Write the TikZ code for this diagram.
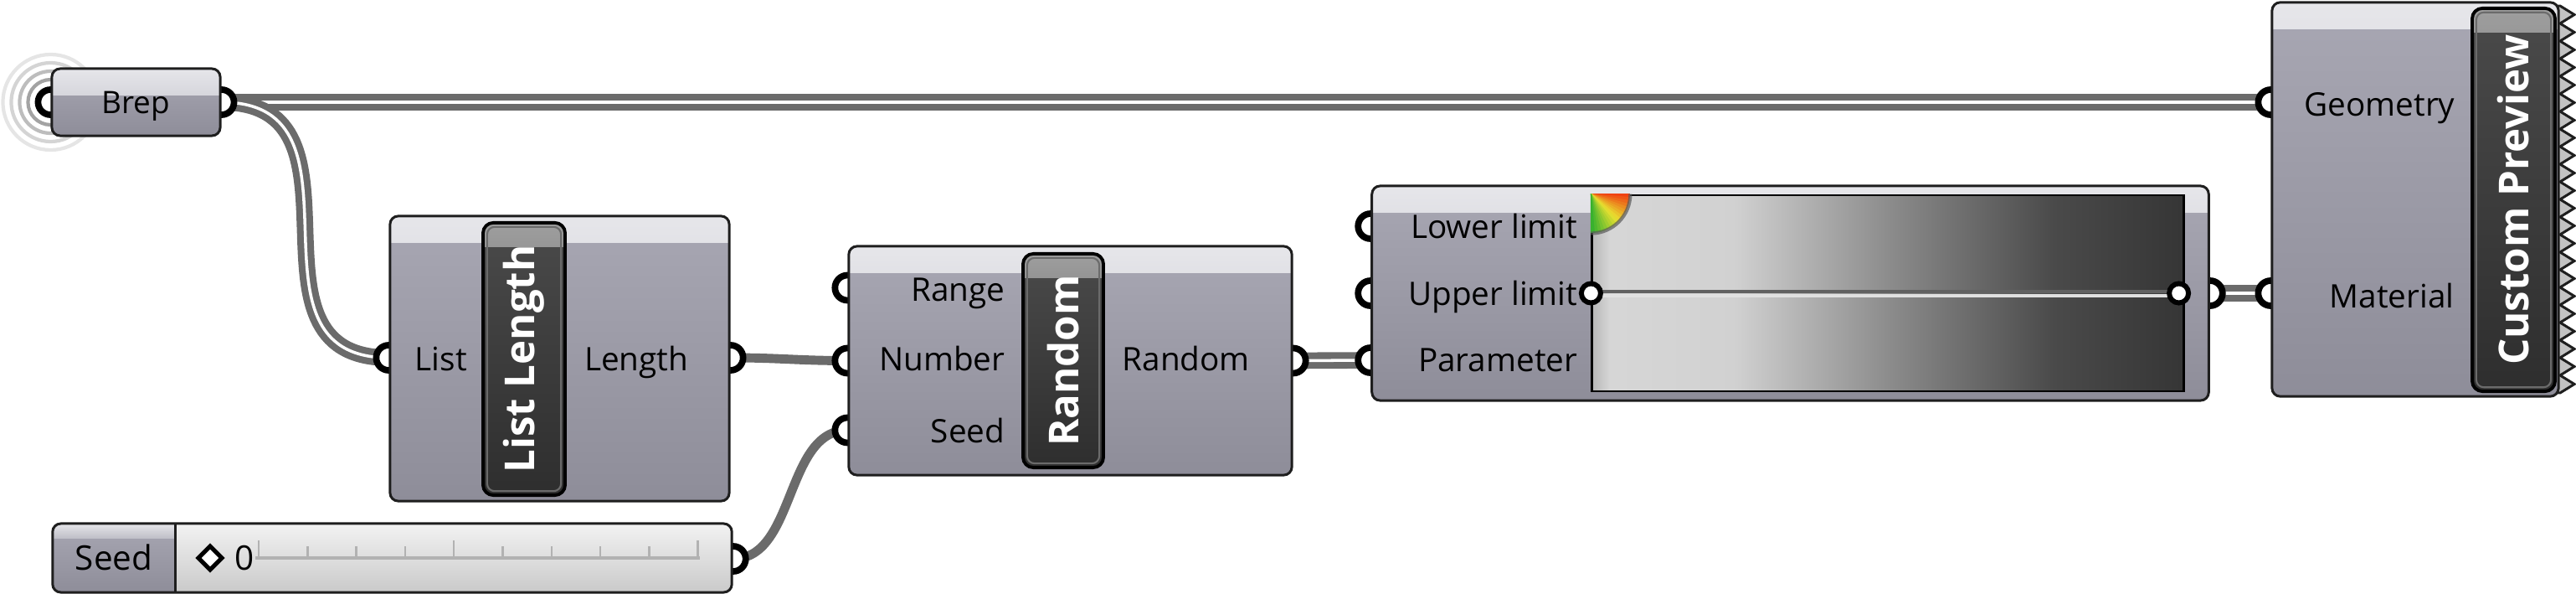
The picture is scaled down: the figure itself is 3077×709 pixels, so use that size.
\documentclass[tikz,border=0pt]{standalone}
\usepackage{fontspec}
\setmainfont{Open Sans}
\usetikzlibrary{calc}

\definecolor{bodyhi}{HTML}{A8A7B3}
\definecolor{bodylo}{HTML}{8E8D99}
\definecolor{headhi}{HTML}{E6E6EA}
\definecolor{headlo}{HTML}{BEBEC7}
\definecolor{gedge}{HTML}{1E1E1E}
\definecolor{gwire}{HTML}{6B6B6B}
\definecolor{badgehi}{HTML}{4A4A4A}
\definecolor{badgelo}{HTML}{2E2E2E}
\definecolor{sliderhi}{HTML}{F2F2F2}
\definecolor{sliderlo}{HTML}{CACACA}
\definecolor{qred}{HTML}{F03A10}
\definecolor{qyel}{HTML}{E8E030}
\definecolor{qgrn}{HTML}{2EAE2E}

\pgfdeclarehorizontalshading{greyramp}{100bp}{color(0bp)=(white!72!black); color(25bp)=(white!72!black); color(26.5bp)=(white!84!black); color(37bp)=(white!82!black); color(50bp)=(white!55!black); color(64bp)=(white!29!black); color(75bp)=(white!21!black); color(100bp)=(white!21!black)}

\pgfdeclarelayer{wires}
\pgfdeclarelayer{ports}
\pgfsetlayers{wires,ports,main}

\newcommand{\portfont}{\fontsize{11}{13}\selectfont}
\newcommand{\badgefont}{\fontsize{14}{16}\selectfont\bfseries}

\begin{document}
\begin{tikzpicture}[x=0.01cm, y=-0.01cm]
    % Styles
    \tikzstyle{comp} = [draw=gedge, line width=0.85pt, rounded corners=2.8pt, inner sep=0pt, top color=bodyhi, bottom color=bodylo,
        path picture={\fill[sharp corners, top color=headhi, bottom color=headlo] (path picture bounding box.north west) rectangle ([yshift=-9pt]path picture bounding box.north east);}]
    \tikzstyle{slider} = [draw=gedge, line width=0.85pt, rounded corners=2.8pt, inner sep=0pt, top color=sliderhi, bottom color=sliderlo,
        path picture={\fill[sharp corners, top color=bodyhi, bottom color=bodylo] (path picture bounding box.north west) rectangle ([xshift=1.47cm]path picture bounding box.south west);
            \fill[sharp corners, top color=headhi, bottom color=headlo] (path picture bounding box.north west) rectangle ([xshift=1.47cm, yshift=-5pt]path picture bounding box.north west);
            \draw[gedge, line width=0.85pt] ([xshift=1.47cm]path picture bounding box.north west) -- ([xshift=1.47cm]path picture bounding box.south west);}]
    \tikzstyle{badge} = [draw=black, line width=1.1pt, rounded corners=3.5pt, inner sep=0pt, top color=badgehi, bottom color=badgelo, text=white, font=\badgefont,
        path picture={\fill[sharp corners, top color=white!62!black, bottom color=badgehi] (path picture bounding box.north west) rectangle ([yshift=-8pt]path picture bounding box.north east);
            \draw[white!42!black, line width=0.6pt, rounded corners=2.5pt] ([shift={(1.4pt,-1.4pt)}]path picture bounding box.north west) rectangle ([shift={(-1.4pt,1.4pt)}]path picture bounding box.south east);}]
    \tikzstyle{port} = [circle, draw=black, fill=white, line width=2.2pt, minimum size=0.3cm, inner sep=0pt]
    \tikzstyle{grip} = [circle, draw=black, fill=white, line width=1.7pt, minimum size=0.23cm, inner sep=0pt]
    \tikzstyle{listwire} = [draw=gwire, line width=2.3pt, double=white, double distance=1pt]
    \tikzstyle{itemwire} = [draw=gwire, line width=3.1pt]
    \tikzstyle{inlabel} = [anchor=base east, font=\portfont, inner sep=0pt]
    \tikzstyle{outlabel} = [anchor=base west, font=\portfont, inner sep=0pt]

    \useasboundingbox (0,0) rectangle (3077,709);

    % Components
    \node[comp, minimum width=2.01cm, minimum height=0.80cm] (brep) at (162.5,122) {};
    \node[comp, minimum width=4.05cm, minimum height=3.40cm] (llen) at (668.5,428) {};
    \node[comp, minimum width=5.29cm, minimum height=2.73cm] (rnd) at (1278.5,430.5) {};
    \node[comp, minimum width=9.99cm, minimum height=2.56cm] (grad) at (2138.5,350) {};
    \node[comp, minimum width=3.42cm, minimum height=4.70cm] (prev) at (2885,238) {};
    \node[slider, minimum width=8.11cm, minimum height=0.82cm] (seed) at (468.5,666) {};

    \node[badge, minimum width=0.98cm, minimum height=3.25cm] (llen-badge) at (626,428.5) {\rotatebox{90}{List Length}};
    \node[badge, minimum width=0.96cm, minimum height=2.55cm] (rnd-badge) at (1270,430.5) {\rotatebox{90}{Random}};
    \node[badge, minimum width=0.99cm, minimum height=4.57cm] (prev-badge) at (3002.5,238.5) {\rotatebox{90}{Custom Preview}};

    % Gradient field
    \node[draw=black, line width=0.8pt, shade, shading=greyramp, minimum width=7.06cm, minimum height=2.34cm, inner sep=0pt] (ramp) at (2255,350) {};
    \foreach \a in {0,5,...,85} {
        \ifnum\a<45
            \pgfmathtruncatemacro\p{(\a+2.5)*100/45}
            \colorlet{wedge}{qyel!\p!qred}
        \else
            \pgfmathtruncatemacro\p{(\a-42.5)*100/45}
            \colorlet{wedge}{qgrn!\p!qyel}
        \fi
        \filldraw[wedge, line width=0.3pt] (ramp.north west) -- ($(ramp.north west)+(\a:46)$) -- ($(ramp.north west)+(\a+5:46)$) -- cycle;
    }
    \draw[black!65, line width=1.2pt, opacity=0.7] ($(ramp.north west)+(0:47)$) arc[start angle=0, end angle=90, radius=47];
    \coordinate (grip-lo) at (ramp.west);
    \coordinate (grip-hi) at ($(ramp.east)+(-7,0)$);
    \draw[black!62, line width=1.1pt] ($(grip-lo)+(0,-2)$) -- ($(grip-hi)+(0,-2)$);
    \draw[white!88!black, line width=1.1pt] ($(grip-lo)+(0,3)$) -- ($(grip-hi)+(0,3)$);
    \node[grip] (upper-lo) at (grip-lo) {};
    \node[grip] (upper-hi) at (grip-hi) {};

    % Slider track
    \draw[white!70!black, line width=0.9pt] (305,666) -- (836,666);
    \foreach \i in {0,...,9} {
        \pgfmathsetmacro\tx{309+58.3*\i}
        \draw[white!70!black, line width=0.7pt] (\tx,666) -- (\tx,652);
    }
    \foreach \i in {0,4,9} {
        \pgfmathsetmacro\tx{309+58.3*\i}
        \draw[white!70!black, line width=0.7pt] (\tx,666) -- (\tx,645);
    }
    \draw[black, line width=1.5pt, fill=white] (251,652) -- (265,666) -- (251,680) -- (237,666) -- cycle;

    % Ports
    \begin{pgfonlayer}{ports}
        \node[port] (brep-in) at (brep.west) {};
        \node[port] (brep-out) at (brep.east) {};
        \node[port] (llen-in) at ($(llen.west)+(0,-1)$) {};
        \node[port] (llen-out) at ($(llen.east)+(0,-1)$) {};
        \node[port] (rnd-range) at ($(rnd.west)+(0,-87)$) {};
        \node[port] (rnd-num) at (rnd.west) {};
        \node[port] (rnd-seed) at ($(rnd.west)+(0,83)$) {};
        \node[port] (rnd-out) at (rnd.east) {};
        \node[port] (seed-out) at ($(seed.east)+(0,1)$) {};
        \node[port] (grad-lo) at ($(grad.west)+(0,-80)$) {};
        \node[port] (grad-up) at (grad.west) {};
        \node[port] (grad-par) at ($(grad.west)+(0,80)$) {};
        \node[port] (grad-out) at (grad.east) {};
        \node[port] (prev-geo) at (prev.west |- brep.west) {};
        \node[port] (prev-mat) at (prev.west |- grad.west) {};
        % zigzag edge
        \filldraw[fill=white!76!black, draw=gedge, line width=0.85pt, line join=miter] (3040,7) -- (3058,7)
            \foreach \i in {0,...,21} { -- (3075,{7+21*\i+10.5}) -- (3058,{7+21*(\i+1)}) } -- (3040,469) -- cycle;
    \end{pgfonlayer}

    % Connections
    \begin{pgfonlayer}{wires}
        \foreach \r/\c in {27/36,37/26,47/17,57/10}
            \draw[black!\c, line width=1.2pt] (brep-in.center) circle[radius=\r];
        \draw[listwire] (brep-out.center) -- (prev-geo.center);
        \draw[listwire] (brep-out.center) .. controls +(190,0) and +(-190,0) .. (llen-in.center);
        \draw[itemwire] (llen-out.center) .. controls +(60,0) and +(-60,0) .. (rnd-num.center);
        \draw[itemwire] (seed-out.center) .. controls +(75,0) and +(-75,0) .. (rnd-seed.center);
        \draw[listwire] (rnd-out.center) -- (grad-par.center);
        \draw[listwire] (grad-out.center) -- (prev-mat.center);
    \end{pgfonlayer}

    % Labels
    \node[anchor=base, font=\fontsize{10.5}{12}\selectfont, inner sep=0pt] (brep-txt) at (162,135) {Brep};
    \node[outlabel] (list-txt) at (495,442) {List};
    \node[inlabel] (length-txt) at (823,442) {Length};
    \node[inlabel] (range-txt) at (1201,359) {Range};
    \node[inlabel] (number-txt) at (1201,442) {Number};
    \node[inlabel] (seedin-txt) at (1201,528) {Seed};
    \node[outlabel] (random-txt) at (1340,442) {Random};
    \node[inlabel] (lower-txt) at (1885,284) {Lower limit};
    \node[inlabel] (upper-txt) at (1885,364) {Upper limit};
    \node[inlabel] (param-txt) at (1885,443) {Parameter};
    \node[inlabel] (geo-txt) at (2933,138) {Geometry};
    \node[inlabel] (mat-txt) at (2932,367) {Material};
    \node[anchor=base, font=\fontsize{11.5}{13}\selectfont, inner sep=0pt] (seed-txt) at (136,680) {Seed};
    \node[anchor=base west, font=\fontsize{11.5}{13}\selectfont, inner sep=0pt] (value-txt) at (280,680) {0};
\end{tikzpicture}
\end{document}
